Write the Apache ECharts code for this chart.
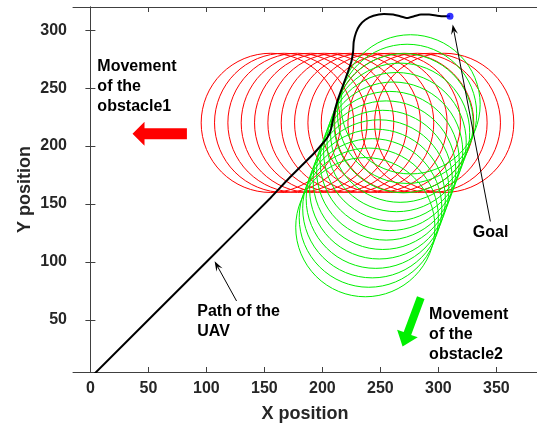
<!DOCTYPE html>
<html>
<head>
<meta charset="utf-8">
<script src="https://cdn.jsdelivr.net/npm/echarts@6/dist/echarts.min.js"></script>
<style>
  html, body { margin: 0; padding: 0; background: #fff; }
  #chart { width: 537px; height: 428px; }
</style>
</head>
<body>
<div id="chart"></div>
<script>
// Axis ticks
const xTicks = [0, 50, 100, 150, 200, 250, 300, 350];
const yTicks = [50, 100, 150, 200, 250, 300];

// Obstacle safety circles (radius in data units)
const obstacleRadius = 60;
// Obstacle 1 moves left
const obstacle1X = [305, 293.5, 282, 270.5, 259, 247.5, 236, 224.5, 213, 201.5, 190, 178.5, 167, 155.5];
const obstacle1Y = [220, 220, 220, 220, 220, 220, 220, 220, 220, 220, 220, 220, 220, 220];
// Obstacle 2 moves down and slightly left
const obstacle2X = [276, 273, 270, 267, 264, 261, 258, 255, 252, 249, 246, 243, 240, 237];
const obstacle2Y = [236, 227.8, 219.7, 211.5, 203.4, 195.2, 187.1, 178.9, 170.8, 162.6, 154.5, 146.3, 138.2, 130];

// UAV path
const pathX = [0, 100, 155, 171, 185, 193, 200, 204, 207, 209, 211, 214, 218, 222, 225, 226.5, 227, 229, 232, 237, 244, 253, 261, 267, 273, 279, 285, 292, 299, 305, 310];
const pathY = [0, 100, 155, 172, 186, 194, 202, 207, 213, 222, 232, 242, 253, 264, 273, 282, 290, 298, 304, 309, 312.5, 314, 313.5, 312, 310.5, 312, 313.5, 313.5, 312.5, 312, 312];

// Goal point
const goalX = [310];
const goalY = [312];

const FONT = '"Liberation Sans", Arial, Helvetica, sans-serif';
const AXIS_COLOR = '#404040';

const chart = echarts.init(document.getElementById('chart'), null, { renderer: 'canvas' });

function circleSeries(xs, ys, color) {
  return {
    type: 'custom',
    coordinateSystem: 'cartesian2d',
    xAxisIndex: 0,
    yAxisIndex: 0,
    clip: true,
    silent: true,
    data: xs.map((x, i) => [x, ys[i]]),
    renderItem: function (params, api) {
      const c = api.coord([api.value(0), api.value(1)]);
      const r = api.size([obstacleRadius, 0])[0];
      return {
        type: 'circle',
        shape: { cx: c[0], cy: c[1], r: r },
        style: { fill: 'none', stroke: color, lineWidth: 1 }
      };
    }
  };
}

const baseAxis = {
  axisLine: { show: true, lineStyle: { color: AXIS_COLOR, width: 1 } },
  axisTick: { show: true, inside: true, length: 5, lineStyle: { color: AXIS_COLOR } },
  splitLine: { show: false }
};

const option = {
  animation: false,
  backgroundColor: '#ffffff',
  grid: { left: 73, right: -3, top: 7, bottom: 53, containLabel: false },
  xAxis: [
    Object.assign({}, baseAxis, {
      type: 'value', position: 'bottom', min: -15, max: 385,
      axisTick: Object.assign({}, baseAxis.axisTick, { customValues: xTicks }),
      axisLabel: { customValues: xTicks, color: '#262626', fontSize: 16, fontWeight: 'bold', fontFamily: FONT, margin: 9 },
      name: 'X position', nameLocation: 'middle', nameGap: 33, nameMoveOverlap: false,
      nameTextStyle: { color: '#262626', fontSize: 18, fontWeight: 'bold', fontFamily: FONT }
    }),
    Object.assign({}, baseAxis, {
      type: 'value', position: 'top', min: -15, max: 385,
      axisTick: Object.assign({}, baseAxis.axisTick, { customValues: xTicks }),
      axisLabel: { show: false }
    })
  ],
  yAxis: [
    Object.assign({}, baseAxis, {
      type: 'value', position: 'left', min: 5, max: 320,
      axisTick: Object.assign({}, baseAxis.axisTick, { customValues: yTicks }),
      axisLabel: { customValues: yTicks, color: '#262626', fontSize: 16, fontWeight: 'bold', fontFamily: FONT, margin: 6 },
      name: 'Y position', nameLocation: 'middle', nameGap: 39, nameRotate: 90, nameMoveOverlap: false,
      nameTextStyle: { color: '#262626', fontSize: 18, fontWeight: 'bold', fontFamily: FONT }
    }),
    Object.assign({}, baseAxis, {
      type: 'value', position: 'right', min: 5, max: 320,
      axisTick: Object.assign({}, baseAxis.axisTick, { customValues: yTicks }),
      axisLabel: { show: false }
    })
  ],
  series: [
    circleSeries(obstacle1X, obstacle1Y, '#ff0000'),
    circleSeries(obstacle2X, obstacle2Y, '#00f000'),
    {
      type: 'line',
      xAxisIndex: 0, yAxisIndex: 0,
      data: pathX.map((x, i) => [x, pathY[i]]),
      showSymbol: false,
      smooth: 0.2,
      clip: true,
      lineStyle: { color: '#000000', width: 2 },
      z: 5
    },
    {
      type: 'scatter',
      xAxisIndex: 0, yAxisIndex: 0,
      data: goalX.map((x, i) => [x, goalY[i]]),
      symbol: 'circle',
      symbolSize: 7,
      itemStyle: { color: '#0000ff' },
      z: 6
    }
  ]
};

chart.setOption(option);

// ---- Annotations (positions given in data units, converted to pixels) ----
const px = p => chart.convertToPixel({ gridIndex: 0 }, p);

function blockArrow(tailD, tipD, shaftW, headW, headL, color) {
  const a = px(tailD), b = px(tipD);
  const dx = b[0] - a[0], dy = b[1] - a[1];
  const len = Math.hypot(dx, dy);
  const ux = dx / len, uy = dy / len, nx = -uy, ny = ux;
  const bx = b[0] - ux * headL, by = b[1] - uy * headL;
  const pts = [
    [a[0] + nx * shaftW / 2, a[1] + ny * shaftW / 2],
    [bx + nx * shaftW / 2, by + ny * shaftW / 2],
    [bx + nx * headW / 2, by + ny * headW / 2],
    [b[0], b[1]],
    [bx - nx * headW / 2, by - ny * headW / 2],
    [bx - nx * shaftW / 2, by - ny * shaftW / 2],
    [a[0] - nx * shaftW / 2, a[1] - ny * shaftW / 2]
  ];
  return { type: 'polygon', shape: { points: pts }, style: { fill: color, stroke: null }, z: 100 };
}

function thinArrow(tailD, tipD) {
  const a = px(tailD), b = px(tipD);
  const dx = b[0] - a[0], dy = b[1] - a[1];
  const len = Math.hypot(dx, dy);
  const ux = dx / len, uy = dy / len, nx = -uy, ny = ux;
  const L = 10, W = 7;
  return [
    { type: 'line', shape: { x1: a[0], y1: a[1], x2: b[0] - ux * 6, y2: b[1] - uy * 6 },
      style: { stroke: '#000', lineWidth: 1 }, z: 100 },
    { type: 'polygon', z: 100, style: { fill: '#000', stroke: null },
      shape: { points: [
        [b[0], b[1]],
        [b[0] - ux * L + nx * W / 2, b[1] - uy * L + ny * W / 2],
        [b[0] - ux * L * 0.6, b[1] - uy * L * 0.6],
        [b[0] - ux * L - nx * W / 2, b[1] - uy * L - ny * W / 2]
      ] } }
  ];
}

function label(text, posD) {
  const p = px(posD);
  return {
    type: 'text', x: p[0], y: p[1] - 3, z: 100,
    style: { text: text, font: 'bold 16px ' + FONT, fill: '#000', lineHeight: 20, align: 'left', verticalAlign: 'top' }
  };
}

const graphics = [
  label('Movement\nof the\nobstacle1', [6, 275]),
  blockArrow([83.2, 210.6], [36.3, 210.6], 11, 24, 12, '#ff0000'),
  label('Movement\nof the\nobstacle2', [292, 60.6]),
  blockArrow([284.8, 69.2], [269.1, 26.9], 8, 22, 14, '#00f000'),
  label('Goal', [329.7, 131.5]),
  label('Path of the\nUAV', [92.1, 63.4])
].concat(
  thinArrow([344.8, 134.9], [312.3, 304.9]),
  thinArrow([126, 66.3], [107.1, 100.6])
);

chart.setOption({ graphic: graphics });
</script>
</body>
</html>
